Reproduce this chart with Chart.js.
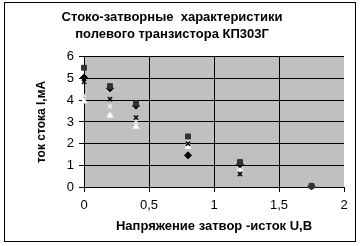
<!DOCTYPE html>
<html>
<head>
<meta charset="utf-8">
<script src="https://cdn.jsdelivr.net/npm/chart.js@4/dist/chart.umd.min.js"></script>
<style>
  html, body { margin: 0; padding: 0; background: #fff; }
  #wrap { width: 361px; height: 246px; }
</style>
</head>
<body>
<div id="wrap"><canvas id="c" width="361" height="246"></canvas></div>
<script>
const titleLines = ['Стоко-затворные  характеристики', 'полевого транзистора КП303Г'];
const xTitle = 'Напряжение затвор -исток U,B';
const yTitle = 'ток стока I,мА';
const xTicks = [0, 0.5, 1, 1.5, 2];
const yTicks = [0, 1, 2, 3, 4, 5, 6];

const voltages = [0, 0.2, 0.4, 0.8, 1.2, 1.75];
const seriesSquare   = [5.5, 4.65, 3.85, 2.33, 1.15, 0.05];
const seriesDiamond  = [5.05, 4.55, 3.75, 1.46, 1.05, 0.03];
const seriesCross    = [4.85, 4.05, 3.2, 2.0, 0.6, 0.02];
const seriesCrossLt  = [4.2, 3.72, 3.0, 2.05, 0.7, 0.02];
const seriesTriangle = [3.95, 3.3, 2.78, 1.86, 0.8, 0.05];

function pts(arr) { return voltages.map((v, i) => ({ x: v, y: arr[i] })); }

const frame = {
  id: 'frame',
  beforeDraw(chart) {
    const ctx = chart.ctx, a = chart.chartArea;
    ctx.save();
    ctx.fillStyle = '#fff';
    ctx.fillRect(0, 0, chart.width, chart.height);
    ctx.strokeStyle = '#000';
    ctx.lineWidth = 1;
    ctx.strokeRect(4.5, 2.5, 351, 239);
    ctx.fillStyle = '#c0c0c0';
    ctx.fillRect(a.left, a.top, a.right - a.left, a.bottom - a.top);
    ctx.restore();
  }
};

new Chart(document.getElementById('c'), {
  type: 'scatter',
  data: {
    datasets: [
      { data: pts(seriesSquare), pointStyle: 'rect', radius: 3.5, backgroundColor: '#333333', borderColor: '#333333', borderWidth: 1, clip: false },
      { data: pts(seriesDiamond), pointStyle: 'rectRot', radius: 3.5, backgroundColor: '#000000', borderColor: '#000000', borderWidth: 1, clip: false },
      { data: pts(seriesCross), pointStyle: 'crossRot', radius: 3, borderColor: '#000000', borderWidth: 1.5, clip: false },
      { data: pts(seriesCrossLt), pointStyle: 'crossRot', radius: 3, borderColor: '#e8e8e8', borderWidth: 1.5, clip: false },
      { data: pts(seriesTriangle), pointStyle: 'triangle', radius: 3.5, backgroundColor: '#ffffff', borderColor: '#f0f0f0', borderWidth: 1, clip: false }
    ]
  },
  options: {
    responsive: false,
    animation: false,
    events: [],
    layout: { padding: { left: 0, right: 17, top: 0, bottom: 0 } },
    plugins: {
      legend: { display: false },
      tooltip: { enabled: false },
      title: {
        display: true,
        text: titleLines,
        color: '#000',
        font: { family: 'Liberation Sans, Arial, sans-serif', size: 13, weight: 'bold', lineHeight: 1.38 },
        padding: { top: 8, bottom: 13 }
      }
    },
    scales: {
      x: {
        type: 'linear',
        min: 0, max: 2,
        afterBuildTicks(scale) { scale.ticks = xTicks.map(v => ({ value: v })); },
        afterFit(scale) { scale.height = 59; },
        ticks: {
          color: '#000',
          padding: 6,
          font: { family: 'Liberation Sans, Arial, sans-serif', size: 13 },
          callback: v => String(v).replace('.', ',')
        },
        grid: {
          color: ctx => (ctx.tick && ctx.tick.value === 2) ? 'rgba(0,0,0,0)' : '#000',
          tickColor: '#000',
          tickLength: 5,
          lineWidth: 1
        },
        border: { color: '#000', width: 1 },
        title: {
          display: true,
          text: xTitle,
          color: '#000',
          font: { family: 'Liberation Sans, Arial, sans-serif', size: 13, weight: 'bold' },
          padding: { top: 0, bottom: 12 }
        }
      },
      y: {
        type: 'linear',
        min: 0, max: 6,
        afterBuildTicks(scale) { scale.ticks = yTicks.map(v => ({ value: v })); },
        afterFit(scale) { scale.width = 84; },
        ticks: {
          color: '#000',
          padding: 5,
          font: { family: 'Liberation Sans, Arial, sans-serif', size: 13 }
        },
        grid: { color: '#000', tickColor: '#000', tickLength: 5, lineWidth: 1 },
        border: { color: '#000', width: 1 },
        title: {
          display: true,
          text: yTitle,
          color: '#000',
          font: { family: 'Liberation Sans, Arial, sans-serif', size: 12, weight: 'bold' },
          padding: { top: 34, bottom: 0 }
        }
      }
    }
  },
  plugins: [frame]
});
</script>
</body>
</html>
